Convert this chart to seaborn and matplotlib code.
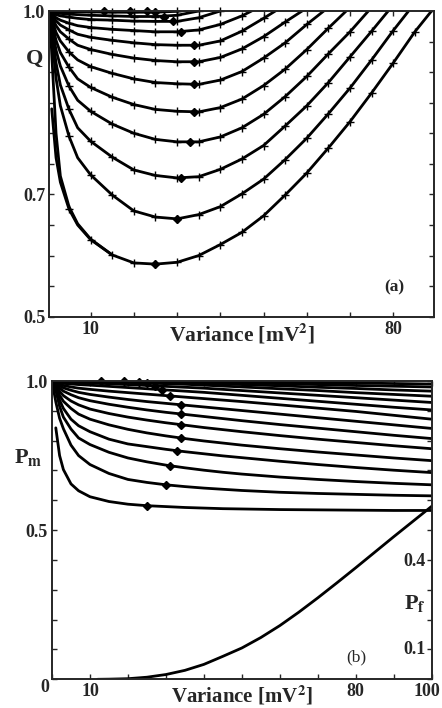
import numpy as np
import pandas as pd
import matplotlib
matplotlib.use("Agg")
import matplotlib.pyplot as plt
import matplotlib.transforms as mtransforms
import seaborn as sns

sns.set_style("ticks")
plt.rcParams['font.family'] = ['Liberation Serif', 'DejaVu Serif']
plt.rcParams['mathtext.fontset'] = 'stix'

# ---------------- data: panel (a) quality Q vs variance ----------------
XT = [0.5, 1, 2, 3, 5, 7, 10, 15, 20, 25, 30, 35, 40, 45, 50, 55, 60, 65, 70, 75, 80, 85, 90]
Q0 = [1.0, 0.93, 0.80, 0.73, 0.68, 0.652, 0.627, 0.601]                     # merges into Q1
Q1 = [0.84, 0.76, 0.72, 0.676, 0.65, 0.626, 0.601, 0.588, 0.586, 0.589, 0.600, 0.618, 0.638,
      0.665, 0.699, 0.735, 0.776, 0.819, 0.866, 0.915, 0.966, 1.01]          # starts at x=1
Q2 = [1.0, 0.96, 0.89, 0.845, 0.795, 0.76, 0.732, 0.699, 0.673, 0.663, 0.660, 0.667, 0.680,
      0.701, 0.725, 0.757, 0.792, 0.832, 0.874, 0.920, 0.968, 1.013]
Q3 = [1.0, 0.969, 0.915, 0.879, 0.839, 0.809, 0.787, 0.761, 0.740, 0.731, 0.727, 0.729, 0.741,
      0.758, 0.780, 0.812, 0.845, 0.883, 0.925, 0.967, 1.01]
Q4 = [1.0, 0.976, 0.936, 0.910, 0.877, 0.854, 0.836, 0.815, 0.800, 0.790, 0.786, 0.786, 0.794,
      0.809, 0.831, 0.860, 0.893, 0.930, 0.966, 1.006]
Q5 = [1.0, 0.983, 0.952, 0.932, 0.908, 0.889, 0.875, 0.859, 0.847, 0.839, 0.836, 0.835, 0.842,
      0.856, 0.878, 0.905, 0.937, 0.972, 1.006]
Q6 = [1.0, 0.987, 0.965, 0.951, 0.933, 0.920, 0.909, 0.898, 0.889, 0.883, 0.881, 0.880, 0.887,
      0.901, 0.923, 0.948, 0.978, 1.006]
Q7 = [1.0, 0.991, 0.976, 0.966, 0.954, 0.944, 0.937, 0.929, 0.923, 0.919, 0.917, 0.917, 0.924,
      0.938, 0.958, 0.982, 1.005]
Q8 = [1.0, 0.994, 0.984, 0.977, 0.969, 0.962, 0.957, 0.952, 0.948, 0.945, 0.944, 0.944, 0.951,
      0.967, 0.988, 1.01]
Q9 = [1.0, 0.996, 0.989, 0.985, 0.980, 0.976, 0.973, 0.970, 0.968, 0.966, 0.966, 0.969, 0.978,
      0.992, 1.01]
Q10 = [1.0, 0.998, 0.994, 0.992, 0.990, 0.988, 0.986, 0.985, 0.9835, 0.983, 0.983, 0.989, 1.0]
Q11 = [1.0, 0.999, 0.997, 0.996, 0.995, 0.994, 0.993, 0.992, 0.991, 0.991, 0.993, 1.0, 1.01]
Q12 = [1.0, 1.0, 0.999, 0.999, 0.999, 0.9985, 0.9985, 0.998, 0.998, 0.998, 0.9995, 1.003]
Q_CURVES = [Q1, Q2, Q3, Q4, Q5, Q6, Q7, Q8, Q9, Q10, Q11, Q12]

# optimum (diamond) points in panel (a)
DQ_X = [25, 30, 31, 33, 34, 34, 34, 34, 31, 29, 27, 25, 23, 19, 13]
DQ_Y = [0.586, 0.660, 0.727, 0.786, 0.835, 0.880, 0.917, 0.944, 0.966, 0.983, 0.991, 0.998,
        0.9995, 1.0, 1.0]

# ---------------- data: panel (b) Pm and Pf vs variance ----------------
XB = [0, 1, 2, 3, 5, 7, 10, 15, 20, 25, 30, 35, 40, 45, 50, 60, 70, 80, 90, 100]
P1 = [0.843, 0.750, 0.703, 0.655, 0.632, 0.612, 0.596, 0.587, 0.582, 0.579, 0.576, 0.574,
      0.572, 0.571, 0.569, 0.568, 0.567, 0.566, 0.566]                       # starts at x=1
P2 = [1.0, 0.93, 0.875, 0.84, 0.785, 0.75, 0.72, 0.69, 0.670, 0.660, 0.652, 0.646, 0.641,
      0.637, 0.633, 0.627, 0.623, 0.620, 0.617, 0.615]
P3 = [1.0, 0.969, 0.915, 0.879, 0.839, 0.809, 0.787, 0.761, 0.742, 0.729, 0.718, 0.709, 0.701,
      0.694, 0.688, 0.678, 0.670, 0.663, 0.657, 0.652]
P4 = [1.0, 0.976, 0.936, 0.908, 0.872, 0.850, 0.830, 0.805, 0.789, 0.780, 0.771, 0.763, 0.756,
      0.749, 0.743, 0.731, 0.720, 0.710, 0.701, 0.693]
P5 = [1.0, 0.983, 0.952, 0.932, 0.908, 0.889, 0.872, 0.853, 0.838, 0.826, 0.816, 0.807, 0.799,
      0.792, 0.785, 0.773, 0.762, 0.752, 0.742, 0.733]
P6 = [1.0, 0.987, 0.965, 0.951, 0.933, 0.920, 0.906, 0.891, 0.879, 0.869, 0.860, 0.852, 0.844,
      0.837, 0.830, 0.817, 0.805, 0.794, 0.783, 0.773]
P7 = [1.0, 0.991, 0.976, 0.966, 0.954, 0.944, 0.934, 0.922, 0.912, 0.903, 0.895, 0.888, 0.881,
      0.874, 0.867, 0.854, 0.842, 0.830, 0.818, 0.807]
P8 = [1.0, 0.994, 0.984, 0.977, 0.969, 0.962, 0.955, 0.946, 0.938, 0.931, 0.925, 0.919, 0.913,
      0.907, 0.901, 0.889, 0.877, 0.865, 0.853, 0.841]
P9 = [1.0, 0.996, 0.989, 0.985, 0.980, 0.976, 0.972, 0.966, 0.961, 0.956, 0.951, 0.946, 0.941,
      0.936, 0.931, 0.920, 0.909, 0.898, 0.885, 0.872]
P10 = [1.0, 0.998, 0.994, 0.992, 0.990, 0.988, 0.986, 0.982, 0.978, 0.974, 0.970, 0.966, 0.962,
       0.957, 0.952, 0.942, 0.932, 0.922, 0.912, 0.903]
P11 = [1.0, 0.999, 0.997, 0.996, 0.995, 0.994, 0.993, 0.991, 0.988, 0.985, 0.982, 0.979, 0.976,
       0.972, 0.968, 0.960, 0.952, 0.944, 0.936, 0.928]
P12 = [1.0, 1.0, 0.999, 0.999, 0.999, 0.998, 0.998, 0.997, 0.995, 0.993, 0.991, 0.989, 0.986,
       0.983, 0.980, 0.974, 0.968, 0.961, 0.955, 0.949]
P13 = [1.0, 1.0, 1.0, 1.0, 0.9995, 0.9995, 0.999, 0.9985, 0.998, 0.997, 0.9955, 0.994, 0.992,
       0.990, 0.988, 0.984, 0.979, 0.975, 0.970, 0.966]
P14 = [1.0, 1.0, 1.0, 1.0, 1.0, 1.0, 1.0, 0.9995, 0.9992, 0.9985, 0.998, 0.997, 0.996, 0.995,
       0.994, 0.991, 0.988, 0.985, 0.9825, 0.980]
P15 = [1.0, 1.0, 1.0, 1.0, 1.0, 1.0, 1.0, 1.0, 1.0, 0.9995, 0.999, 0.9985, 0.998, 0.997,
       0.9965, 0.995, 0.994, 0.993, 0.9915, 0.990]
P_CURVES = [P1, P2, P3, P4, P5, P6, P7, P8, P9, P10, P11, P12, P13, P14, P15]

DP_X = [25, 30, 31, 33, 34, 34, 34, 34, 31, 29, 27, 25, 23, 19, 13]
DP_Y = [0.582, 0.652, 0.716, 0.766, 0.809, 0.854, 0.889, 0.920, 0.950, 0.971, 0.984, 0.993,
        0.9974, 0.9993, 1.0]

XPF = [12, 15, 20, 25, 30, 35, 40, 45, 50, 55, 60, 65, 70, 75, 80, 85, 90, 95, 100]
PF = [0.0, 0.0005, 0.002, 0.007, 0.016, 0.03, 0.05, 0.077, 0.105, 0.14, 0.18, 0.225, 0.273,
      0.323, 0.374, 0.426, 0.478, 0.529, 0.58]

# ---------------- build tables ----------------
rows = []
for k, q in enumerate(Q_CURVES):
    xs = XT[1:] if k == 0 else XT
    for x, y in zip(xs, q):
        rows.append((k, x, y))
for x, y in zip(XT, Q0):
    rows.append((-1, x, y))
dfq = pd.DataFrame(rows, columns=["curve", "variance", "Q"])

rows = []
for k, p in enumerate(P_CURVES):
    xs = XB[1:] if k == 0 else XB
    for x, y in zip(xs, p):
        rows.append((k, x, y))
dfp = pd.DataFrame(rows, columns=["curve", "variance", "Pm"])
dff = pd.DataFrame({"variance": XPF, "Pf": PF})

# ---------------- figure ----------------
W, H = 442, 708
fig = plt.figure(figsize=(W / 100, H / 100), dpi=100)

def fx(px):
    return px / W

def fy(py):
    return 1 - py / H

axA = fig.add_axes([fx(49.3), fy(316.7), fx(434.3) - fx(49.3), fy(11) - fy(316.7)])
axB = fig.add_axes([fx(52), fy(679.3), fx(431.7) - fx(52), fy(381) - fy(679.3)])

LW = 2.0
FS = 13

# panel (a)
sns.lineplot(data=dfq, x="variance", y="Q", units="curve", estimator=None, sort=False,
             color="black", lw=LW, ax=axA, legend=False)
mk = dfq[(dfq["curve"] >= 0) & (dfq["variance"] % 5 == 0) & (dfq["Q"] <= 1.0)]
axA.plot(mk["variance"], mk["Q"], linestyle="none", marker="+", ms=5.5, mew=1.0,
         color="black", clip_on=False)
axA.plot(DQ_X, DQ_Y, linestyle="none", marker="D", ms=4, color="black", clip_on=False)

axA.set_xlim(0.44, 89.5)
axA.set_ylim(0.5, 1.0)
axA.set_xticks(np.arange(10, 81, 10))
axA.set_xticklabels(["10", "", "", "", "", "", "", "80"])
axA.set_yticks(np.arange(0.5, 1.0001, 0.05))
axA.set_yticklabels(["0.5", "", "", "", "0.7", "", "", "", "", "", "1.0"])
axA.set_xlabel("")
axA.set_ylabel("")
fig.text(fx(242), fy(334), "Variance [mV$^\\mathbf{2}$]", ha="center", va="center",
         fontsize=15.5, fontweight="bold")
fig.text(fx(34.5), fy(59), "Q", ha="center", va="center", fontsize=16, fontweight="bold")
fig.text(fx(394), fy(287), "(a)", ha="center", va="center", fontsize=12.5, fontweight="bold")

# panel (b)
sns.lineplot(data=dfp, x="variance", y="Pm", units="curve", estimator=None, sort=False,
             color="black", lw=LW, ax=axB, legend=False)
sns.lineplot(data=dff, x="variance", y="Pf", estimator=None, sort=False,
             color="black", lw=LW, ax=axB, legend=False)
axB.plot(DP_X, DP_Y, linestyle="none", marker="D", ms=4, color="black", clip_on=False)

axB.set_xlim(0, 100)
axB.set_ylim(0, 1.0)
axB.set_xticks(np.arange(0, 101, 10))
axB.set_xticklabels(["", "10", "", "", "", "", "", "", "80", "", "100"])
axB.set_yticks(np.arange(0, 1.0001, 0.1))
axB.set_yticklabels(["", "", "", "", "", "0.5", "", "", "", "", "1.0"])
axB.set_xlabel("")
axB.set_ylabel("")
fig.text(fx(45), fy(687), "0", ha="center", va="center", fontsize=FS, fontweight="bold")
fig.text(fx(242), fy(696), "Variance [mV$^\\mathbf{2}$]", ha="center", va="center",
         fontsize=15, fontweight="bold")
fig.text(fx(28), fy(457), "P$_\\mathbf{m}$", ha="center", va="center", fontsize=16,
         fontweight="bold")
fig.text(fx(356), fy(657), "(b)", ha="center", va="center", fontsize=12.5)
fig.text(fx(415), fy(603), "P$_\\mathbf{f}$", ha="center", va="center", fontsize=16,
         fontweight="bold")
fig.text(fx(426), fy(561), "0.4", ha="right", va="center", fontsize=FS, fontweight="bold")
fig.text(fx(426), fy(649), "0.1", ha="right", va="center", fontsize=FS, fontweight="bold")

for ax in (axA, axB):
    for s in ax.spines.values():
        s.set_linewidth(1.4)
        s.set_visible(True)
    ax.tick_params(direction="in", length=3.5, width=1.0, top=True, right=True,
                   labelsize=FS, pad=3)
    for lab in ax.get_xticklabels() + ax.get_yticklabels():
        lab.set_fontweight("bold")
    ax.set_facecolor("white")

# keep the "100" label inside the canvas
lab100 = axB.get_xticklabels()[-1]
lab100.set_transform(lab100.get_transform() +
                     mtransforms.ScaledTranslation(-5 / 100, 0, fig.dpi_scale_trans))

fig.savefig("out.png", dpi=100, facecolor="white")
